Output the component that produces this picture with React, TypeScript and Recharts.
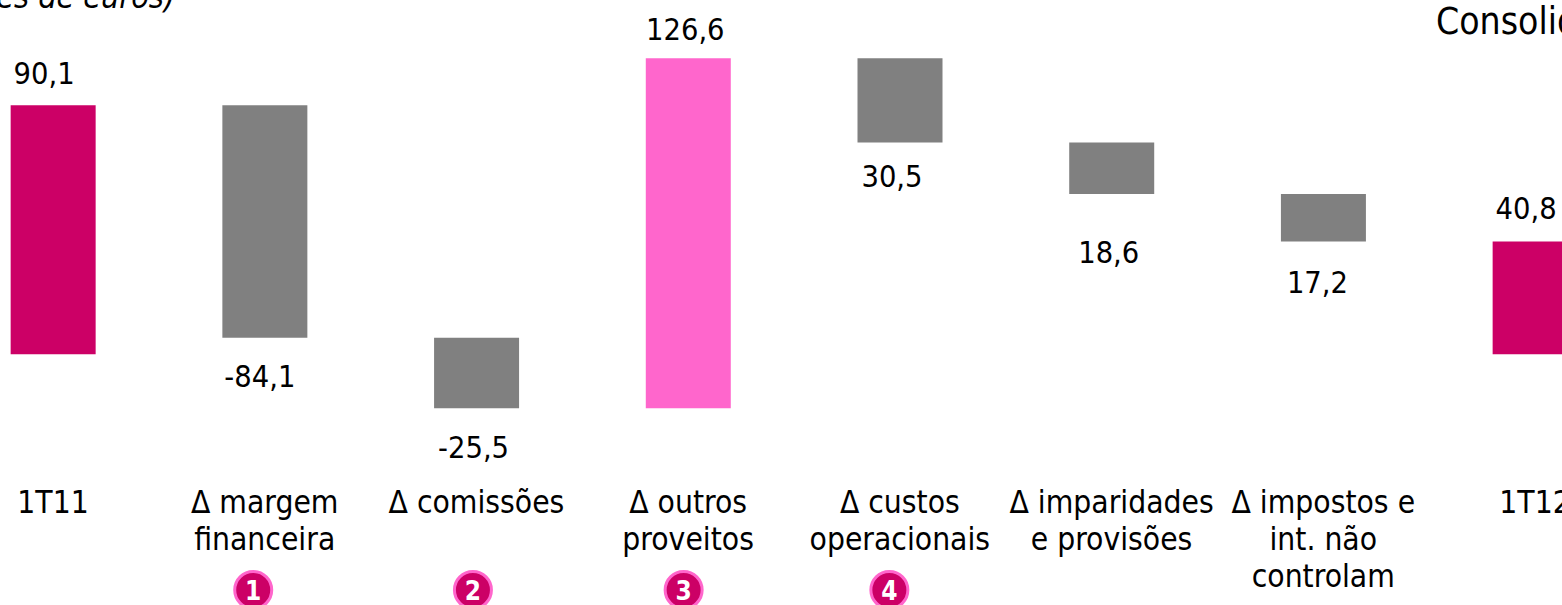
import React from 'react';
import { BarChart, Bar, XAxis, YAxis, Cell, LabelList } from 'recharts';

const categories = ['1T11', 'Δ margem|financeira', 'Δ comissões', 'Δ outros|proveitos', 'Δ custos|operacionais', 'Δ imparidades|e provisões', 'Δ impostos e|int. não|controlam', '1T12'];
const barStart = [0, 90.1, 6, -19.5, 107.1, 76.6, 58, 0];
const barEnd = [90.1, 6, -19.5, 107.1, 76.6, 58, 40.8, 40.8];
const valueLabels = ['90,1', '-84,1', '-25,5', '126,6', '30,5', '18,6', '17,2', '40,8'];
const badges = ['', '1', '2', '3', '4', '', '', ''];

const BAR_COLORS = ['#CC0066', '#808080', '#808080', '#FF66CC', '#808080', '#808080', '#808080', '#CC0066'];
const FONT = '"DejaVu Sans Condensed", "DejaVu Sans", sans-serif';

// hand-placed labels, same as the slide: dx from bar centre, dy from bar top (up) or bottom (down)
const LABEL_DX = [-9, -5, -3, -3, -8, -3, -6, -9];
const LABEL_DY = [-32, 39, 39, -29, 34, 59, 41, -33];
const BADGE_DX = [0, -12, -4, -5, -11, 0, 0, 0];

const data = categories.map((name, i) => ({
  name,
  range: [barStart[i], barEnd[i]],
}));

const ValueLabel = (props: any) => {
  const { x, y, width, height, index } = props;
  const top = Math.min(y, y + height);
  const bottom = Math.max(y, y + height);
  const dy = LABEL_DY[index];
  const cy = dy < 0 ? top + dy : bottom + dy;
  return (
    <text x={x + width / 2 + LABEL_DX[index]} y={cy} textAnchor="middle" dominantBaseline="central" fontSize={30.5} fontFamily={FONT} fill="#000">
      {valueLabels[index]}
    </text>
  );
};

const CategoryTick = (props: any) => {
  const { x, payload } = props;
  const i = payload.index;
  const lines = String(payload.value).split('|');
  return (
    <g>
      {lines.map((line, n) => (
        <text key={n} x={x - 0.5} y={502 + n * 37} textAnchor="middle" dominantBaseline="central" fontSize={31.5} fontFamily={FONT} fill="#000">
          {line}
        </text>
      ))}
      {badges[i] && (
        <g>
          <circle cx={x + BADGE_DX[i]} cy={590} r={18.5} fill="#CC0066" stroke="#FF66CC" strokeWidth={3} />
          <text x={x + BADGE_DX[i]} y={591} textAnchor="middle" dominantBaseline="central" fontSize={26} fontWeight="bold" fontFamily={FONT} fill="#fff">
            {badges[i]}
          </text>
        </g>
      )}
    </g>
  );
};

export default function App() {
  return (
    <div style={{ position: 'fixed', left: 0, top: 0, width: 1562, height: 605, overflow: 'hidden', background: '#fff' }}>
      <div style={{ position: 'absolute', left: -60, top: 0 }}>
        <BarChart width={1710} height={605} data={data} margin={{ top: 22.6, right: 8.65, bottom: 0, left: 7.65 }}>
          <XAxis dataKey="name" height={195.4} axisLine={false} tickLine={false} interval={0} tick={<CategoryTick />} />
          <YAxis hide domain={[-20, 120]} />
          <Bar dataKey="range" barSize={85} isAnimationActive={false}>
            {data.map((d, i) => (
              <Cell key={d.name} fill={BAR_COLORS[i]} />
            ))}
            <LabelList dataKey="range" content={<ValueLabel />} />
          </Bar>
        </BarChart>
      </div>
      <span style={{ position: 'absolute', right: 1387, top: -22, fontFamily: FONT, fontStyle: 'italic', fontSize: 32, whiteSpace: 'nowrap', color: '#000' }}>
        (milhões de euros)
      </span>
      <span style={{ position: 'absolute', left: 1436, top: 0, fontFamily: FONT, fontSize: 37, whiteSpace: 'nowrap', color: '#000' }}>
        Consolidado
      </span>
    </div>
  );
}
